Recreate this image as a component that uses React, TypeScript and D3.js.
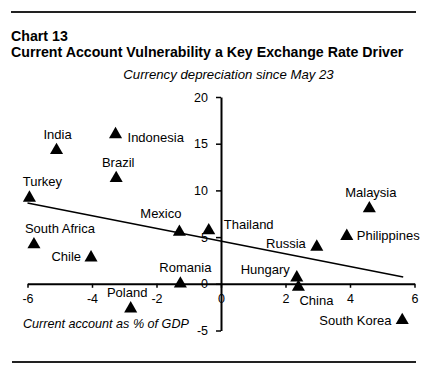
import React, { useEffect, useRef } from "react";
import * as d3 from "d3";

const countries = ["India", "Indonesia", "Brazil", "Turkey", "Mexico", "Thailand", "South Africa", "Chile", "Romania", "Poland", "Malaysia", "Philippines", "Russia", "Hungary", "China", "South Korea"];
const currentAccount = [-5.1, -3.27, -3.25, -5.94, -1.29, -0.38, -5.8, -4.03, -1.26, -2.8, 4.6, 3.9, 2.97, 2.35, 2.4, 5.62];
const depreciation = [14.3, 16.0, 11.3, 9.2, 5.55, 5.7, 4.2, 2.8, 0.0, -2.66, 8.06, 5.1, 3.95, 0.66, -0.35, -3.9];

const trendX = [-6, 5.65];
const trendY = [8.65, 0.72];

const xTicks = [-6, -4, -2, 0, 2, 4, 6];
const yTicks = [-5, 0, 5, 10, 15, 20];

// label placement (pixel offsets from marker, text anchor)
const labelDx = [1, 12, 2, 13, -18.5, 15, 26, -10, 5, -3.5, 1.5, 10, -11, -7, 1, -10.7];
const labelDy = [-11, 7.4, -11.6, -11.7, -14, -1.7, -12, 3.7, -11.7, -11.6, -11.6, 4.3, 0.6, -3.3, 18, 5];
const labelAnchor = ["middle", "start", "middle", "middle", "middle", "start", "middle", "end", "middle", "middle", "middle", "start", "end", "end", "start", "end"];

const FONT = "'Liberation Sans', Arial, sans-serif";

export default function App() {
  const ref = useRef<SVGSVGElement>(null);
  useEffect(() => {
    const svg = d3.select(ref.current);
    svg.selectAll("*").remove();
    const x = d3.scaleLinear().domain([-6, 6]).range([27.5, 414.5]);
    const y = d3.scaleLinear().domain([-5, 20]).range([330.5, 97]);

    svg.append("line").attr("x1", 11).attr("x2", 416).attr("y1", 12).attr("y2", 12).attr("stroke", "#222").attr("stroke-width", 2);
    svg.append("line").attr("x1", 12).attr("x2", 416).attr("y1", 362).attr("y2", 362).attr("stroke", "#222").attr("stroke-width", 2);

    svg.append("text").attr("x", 11).attr("y", 41).attr("font-family", FONT).attr("font-weight", "bold").attr("font-size", 14.2).text("Chart 13");
    svg.append("text").attr("x", 11).attr("y", 57).attr("font-family", FONT).attr("font-weight", "bold").attr("font-size", 14.2).text("Current Account Vulnerability a Key Exchange Rate Driver");
    svg.append("text").attr("x", 228.5).attr("y", 79).attr("text-anchor", "middle").attr("font-family", FONT).attr("font-style", "italic").attr("font-size", 13.2).text("Currency depreciation since May 23");

    // x axis
    const xa = svg.append("g").attr("transform", `translate(0,${y(0)})`)
      .call(d3.axisBottom(x).tickValues(xTicks).tickSize(4).tickSizeOuter(0).tickPadding(6).tickFormat(d3.format("d")));
    xa.select(".domain").attr("stroke", "#000").attr("stroke-width", 2);
    xa.selectAll(".tick line").attr("stroke", "#000").attr("stroke-width", 1.5);
    xa.selectAll("text").attr("font-family", FONT).attr("font-size", 12.5).attr("fill", "#000");
    xa.selectAll(".tick text").text((d: any) => (d < 0 ? "-" + Math.abs(d) : String(d)));

    // y axis
    const ya = svg.append("g").attr("transform", `translate(${x(0)},0)`)
      .call(d3.axisLeft(y).tickValues(yTicks).tickSize(5).tickSizeOuter(0).tickPadding(8));
    ya.select(".domain").attr("stroke", "#000").attr("stroke-width", 2);
    ya.selectAll(".tick line").attr("stroke", "#000").attr("stroke-width", 1.5);
    ya.selectAll("text").attr("font-family", FONT).attr("font-size", 12.5).attr("fill", "#000");
    ya.selectAll(".tick text").text((d: any) => (d < 0 ? "-" + Math.abs(d) : String(d)));

    // trend line
    svg.append("path")
      .datum(trendX.map((v, i) => [v, trendY[i]]))
      .attr("d", d3.line<number[]>().x((d) => x(d[0])).y((d) => y(d[1])))
      .attr("fill", "none").attr("stroke", "#000").attr("stroke-width", 1.5);

    const tri = d3.symbol().type(d3.symbolTriangle).size(74);
    const g = svg.append("g");
    countries.forEach((c, i) => {
      const px = x(currentAccount[i]);
      const py = y(depreciation[i]);
      g.append("path").attr("d", tri() as string).attr("transform", `translate(${px},${py})`).attr("fill", "#000");
      g.append("text").attr("x", px + labelDx[i]).attr("y", py + labelDy[i])
        .attr("text-anchor", labelAnchor[i]).attr("font-family", FONT).attr("font-size", 13).attr("fill", "#000").text(c);
    });

    svg.append("text").attr("x", 23).attr("y", 328).attr("font-family", FONT).attr("font-style", "italic").attr("font-size", 12.6).text("Current account as % of GDP");
  }, []);
  return (
    <svg ref={ref} width={440} height={379} style={{ position: "absolute", left: 0, top: 0, background: "#fff" }} />
  );
}
